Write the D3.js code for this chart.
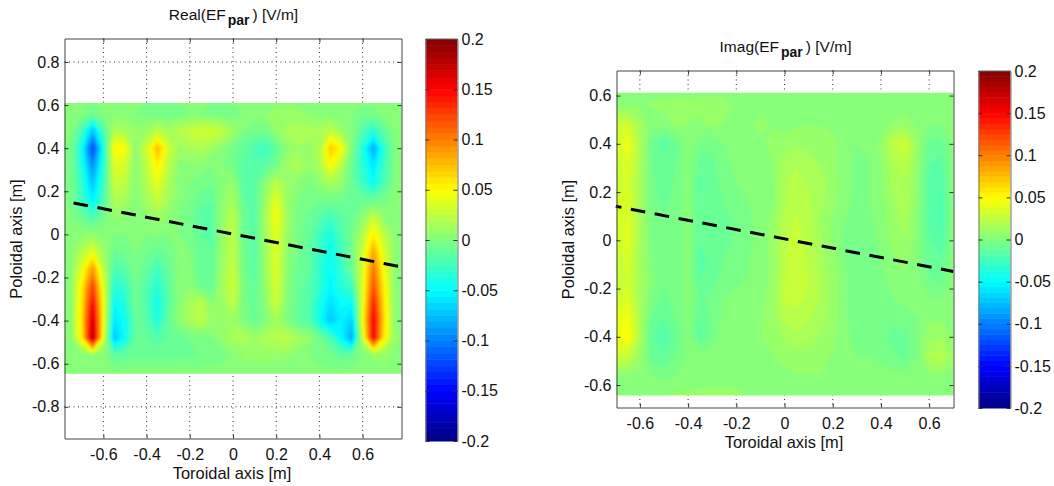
<!DOCTYPE html>
<html>
<head>
<meta charset="utf-8">
<script src="https://cdn.jsdelivr.net/npm/d3@7"></script>
<style>
body { margin: 0; background: #fff; }
text { font-family: "Liberation Sans", Arial, sans-serif; fill: #111; }
.tick text { font-size: 16px; }
</style>
</head>
<body>
<svg id="chart" width="1054" height="486"></svg>
<script>
// field values are in mV/m
var realCols = [-80,-75,-70,-65,-60,-55,-50,-45,-40,-35,-30,-25,-20,-15,-10,-5,0,5,10,15,20,25,30,35,40,45,50,55,60,65,70,75,80];
var imagCols = [-70,-65,-60,-55,-50,-45,-40,-35,-30,-25,-20,-15,-10,-5,0,5,10,15,20,25,30,35,40,45,50,55,60,65,70];
var fieldRows = [64,56,48,40,32,24,16,8,0,-8,-16,-24,-32,-40,-48,-56,-64];

var realField = [
  [3,3,3,2,3,4,3,2,2,0,0,2,3,3,2,2,3,3,3,3,3,3,3,3,3,3,3,3,3,3,3,3,3],
  [3,3,0,-5,0,3,2,0,-3,-5,-6,-3,0,0,-3,-5,-3,0,4,6,10,10,8,6,3,3,2,0,-3,-2,2,3,3],
  [3,0,-22,-75,-20,20,15,8,12,25,15,22,28,32,32,25,12,0,-5,-5,8,15,18,15,15,25,12,2,-18,-35,-12,2,3],
  [2,-2,-45,-125,-42,55,48,5,32,78,35,10,15,18,12,5,-5,-12,-20,-25,-12,5,12,10,15,72,52,0,-35,-85,-30,0,3],
  [2,-2,-38,-95,-33,38,33,3,25,55,25,5,5,5,0,0,-5,-15,-18,-15,-5,12,18,8,18,50,22,-8,-35,-60,-25,0,3],
  [2,-2,-30,-75,-26,30,25,3,20,42,18,3,0,-3,-5,5,8,-15,-15,5,25,10,5,0,5,18,8,-8,-28,-45,-20,0,3],
  [3,-2,-25,-55,-20,18,14,3,14,28,14,2,-3,-10,-12,5,15,-12,-15,10,40,10,0,-3,-5,-5,-5,-8,-8,-10,-2,2,3],
  [3,0,-8,-22,-5,8,5,2,5,12,5,0,-5,-15,-15,8,25,-10,-15,15,48,12,-3,-8,-15,-25,-15,-8,5,30,5,2,3],
  [5,5,5,8,3,0,0,0,0,2,0,0,-3,-12,-15,10,25,-8,-15,12,40,10,-3,-10,-25,-40,-20,-5,20,55,25,5,3],
  [3,5,20,40,12,-8,-5,0,-5,-10,-5,2,0,-10,-12,10,25,-5,-15,12,38,8,-5,-10,-30,-45,-25,-5,30,85,35,5,3],
  [3,5,40,90,25,-22,-15,-2,-12,-25,-10,3,3,-12,-12,12,28,-5,-15,10,38,5,-8,-12,-30,-50,-30,-8,35,105,45,5,3],
  [3,5,55,125,40,-35,-28,-5,-18,-35,-15,5,5,-8,-10,15,30,-3,-12,8,35,3,-10,-15,-30,-52,-35,-25,38,120,52,5,3],
  [3,5,60,150,45,-50,-35,-5,-20,-45,-15,5,15,25,5,10,25,-3,-10,5,30,3,-10,-18,-40,-62,-48,-50,40,140,58,5,3],
  [3,5,62,170,48,-60,-45,-8,-15,-38,-12,5,15,25,10,8,12,0,-8,0,15,0,-12,-15,-45,-72,-55,-68,45,155,62,5,3],
  [3,5,55,185,40,-75,-45,-12,-12,-18,-12,-8,-5,-3,0,8,15,18,12,18,20,25,15,8,-5,-20,-50,-85,30,155,55,8,3],
  [3,3,3,5,3,-12,-10,-8,-8,-8,-8,-8,-8,-6,-5,-3,3,8,8,10,10,8,3,0,-3,-5,-12,-8,0,8,8,5,3],
  [5,3,2,2,0,0,2,3,3,3,3,3,3,3,3,3,3,3,3,0,0,0,0,2,2,2,2,2,3,3,3,3,3]
];

var imagField = [
  [3,3,3,3,3,3,3,4,4,4,4,4,4,4,4,4,4,3,3,3,3,2,0,0,0,0,0,0,0],
  [5,5,5,7,8,8,8,8,8,8,5,5,3,3,3,5,5,5,5,3,3,3,2,2,2,3,3,3,2],
  [28,32,14,3,3,8,6,5,8,6,5,5,8,6,3,5,6,6,5,5,3,3,4,8,10,5,0,0,2],
  [32,44,18,-8,-15,-8,4,-4,-6,0,2,3,5,8,10,12,10,10,8,3,0,3,8,25,32,10,-8,-8,2],
  [28,36,18,-6,-10,-6,3,-8,-7,-2,2,4,5,6,15,18,15,12,8,3,-2,0,6,18,22,8,-12,-15,3],
  [28,34,15,-5,-10,-5,3,-14,-9,-4,0,2,3,5,18,22,18,15,10,3,-2,0,5,15,18,6,-15,-18,3],
  [30,36,15,-4,-8,-3,3,-12,-9,-6,-3,0,2,5,18,24,20,15,8,3,-2,0,3,12,18,5,-15,-20,3],
  [30,38,15,-2,-5,-3,3,-10,-9,-8,-5,-2,3,8,22,26,22,12,5,0,-3,-2,3,10,15,4,-15,-20,3],
  [30,40,15,0,-5,-3,3,-12,-10,-8,-5,-2,3,8,24,27,22,14,6,-2,-5,-3,2,8,12,3,-12,-18,3],
  [26,34,15,0,-5,-3,3,-15,-10,-6,-3,0,3,8,24,28,24,15,8,0,-5,-5,0,5,8,2,-10,-12,3],
  [24,32,15,2,-5,-3,3,-13,-9,-3,-2,0,3,8,25,28,25,18,10,2,-5,-5,-2,3,5,2,-6,-8,3],
  [30,36,15,0,-8,-3,3,-7,-5,0,2,2,4,10,27,28,24,18,10,2,-6,-6,-3,0,3,2,0,0,3],
  [40,46,18,-8,-12,-5,3,-12,-5,2,6,6,6,10,20,22,20,15,10,2,-5,-5,-5,-5,-3,0,5,5,5],
  [40,52,18,-12,-20,-8,2,-14,-3,3,3,4,6,8,14,18,16,12,8,2,-3,-3,-5,-8,-8,0,10,12,5],
  [30,28,10,-10,-12,-5,2,2,3,3,3,3,5,6,8,10,10,8,6,3,0,0,-2,-5,-8,0,18,22,8],
  [5,5,5,0,-2,0,2,3,3,3,3,3,3,3,5,6,6,6,5,3,3,3,3,2,3,3,5,6,5],
  [3,3,3,5,6,7,8,8,8,8,8,6,5,5,6,6,5,5,5,3,3,3,3,3,3,3,3,3,3]
];

var realXTicks = [-0.6,-0.4,-0.2,0,0.2,0.4,0.6];
var realYTicks = [0.8,0.6,0.4,0.2,0,-0.2,-0.4,-0.6,-0.8];
var imagXTicks = [-0.6,-0.4,-0.2,0,0.2,0.4,0.6];
var imagYTicks = [0.6,0.4,0.2,0,-0.2,-0.4,-0.6];
var barTicks = [0.2,0.15,0.1,0.05,0,-0.05,-0.1,-0.15,-0.2];

var realLineX = [-0.738,0.78];
var realLineY = [0.146,-0.151];
var imagLineX = [-0.7,0.7];
var imagLineY = [0.141,-0.129];

var svg = d3.select("#chart");

// MATLAB jet, 64 levels
var jet = d3.scaleLinear()
    .domain([0,0.125,0.375,0.625,0.875,1])
    .range(["#000080","#0000ff","#00ffff","#ffff00","#ff0000","#800000"]);
var levels = d3.range(64);
function levelColor(i) { return jet((i + 0.5) / 64); }

var defs = svg.append("defs");
defs.append("filter").attr("id", "soft")
    .attr("filterUnits", "userSpaceOnUse")
    .attr("x", 0).attr("y", 0).attr("width", 1054).attr("height", 486)
  .append("feGaussianBlur").attr("stdDeviation", 1.3);

function drawPanel(p) {
    var x = d3.scaleLinear().domain(p.xDomain).range([p.left, p.right]);
    var y = d3.scaleLinear().domain(p.yDomain).range([p.bottom, p.top]);
    var g = svg.append("g");

    // grid sits below the field
    var grid = g.append("g")
        .attr("stroke", "#333").attr("stroke-width", 1).attr("stroke-dasharray", "1,3.5");
    grid.selectAll(".gx").data(p.xTicks).enter().append("line")
        .attr("x1", function (d) { return x(d); }).attr("x2", function (d) { return x(d); })
        .attr("y1", p.top).attr("y2", p.bottom);
    grid.selectAll(".gy").data(p.yTicks).enter().append("line")
        .attr("y1", function (d) { return y(d); }).attr("y2", function (d) { return y(d); })
        .attr("x1", p.left).attr("x2", p.right);

    // field as filled contours, one per colour level
    var n = p.cols.length, m = fieldRows.length;
    var cx = d3.scaleLinear().domain([0.5, n - 0.5]).range([x(p.cols[0] / 100), x(p.cols[n - 1] / 100)]);
    var cy = d3.scaleLinear().domain([0.5, m - 0.5]).range([y(fieldRows[0] / 100), y(fieldRows[m - 1] / 100)]);
    var path = d3.geoPath(d3.geoTransform({
        point: function (a, b) { this.stream.point(cx(a), cy(b)); }
    }));
    var thresholds = levels.slice(1).map(function (i) { return -200 + i * 400 / 64; });
    var contours = d3.contours().size([n, m]).thresholds(thresholds)(d3.merge(p.field));

    defs.append("clipPath").attr("id", p.id + "-clip").append("rect")
        .attr("x", p.left).attr("width", p.right - p.left)
        .attr("y", y(p.heatTop)).attr("height", y(p.heatBottom) - y(p.heatTop));

    var heat = g.append("g").attr("clip-path", "url(#" + p.id + "-clip)")
        .append("g").attr("filter", "url(#soft)");
    heat.append("rect")
        .attr("x", p.left - 10).attr("y", p.top - 10)
        .attr("width", p.right - p.left + 20).attr("height", p.bottom - p.top + 20)
        .attr("fill", levelColor(0));
    heat.selectAll("path").data(contours).enter().append("path")
        .attr("d", path)
        .attr("fill", function (d, i) { return levelColor(i + 1); });

    // dashed line
    var line = d3.line()
        .x(function (d) { return x(d[0]); })
        .y(function (d) { return y(d[1]); });
    g.append("path")
        .attr("d", line(d3.zip(p.lineX, p.lineY)))
        .attr("fill", "none").attr("stroke", "#000")
        .attr("stroke-width", 3).attr("stroke-dasharray", "14.7,9.6")
        .attr("stroke-dashoffset", p.dashOffset);

    // box and ticks
    function fmt(d) { return String(d); }
    var axes = g.append("g").attr("stroke-width", 1);
    axes.append("g").attr("transform", "translate(0," + p.bottom + ")")
        .call(d3.axisBottom(x).tickValues(p.xTicks).tickFormat(fmt).tickSize(-4).tickSizeOuter(0).tickPadding(10));
    axes.append("g").attr("transform", "translate(0," + p.top + ")")
        .call(d3.axisTop(x).tickValues(p.xTicks).tickFormat("").tickSize(-4).tickSizeOuter(0));
    axes.append("g").attr("transform", "translate(" + p.left + ",0)")
        .call(d3.axisLeft(y).tickValues(p.yTicks).tickFormat(fmt).tickSize(-4).tickSizeOuter(0).tickPadding(5));
    axes.append("g").attr("transform", "translate(" + p.right + ",0)")
        .call(d3.axisRight(y).tickValues(p.yTicks).tickFormat("").tickSize(-4).tickSizeOuter(0));
    axes.selectAll(".domain").attr("stroke", "#444");
    axes.selectAll(".tick line").attr("stroke", "#333");
    axes.selectAll(".tick text").attr("fill", "#111");

    // texts
    var midX = (p.left + p.right) / 2;
    var title = g.append("text").attr("x", midX + 0.5).attr("y", p.titleY)
        .attr("text-anchor", "middle").style("font-size", "15.5px");
    title.append("tspan").text(p.title);
    title.append("tspan").attr("dx", 2).attr("dy", 5).style("font-size", "14px").style("font-weight", "bold").text("par");
    title.append("tspan").attr("dx", 3).attr("dy", -5).text(") [V/m]");

    g.append("text").attr("x", midX - 1).attr("y", p.xLabelY)
        .attr("text-anchor", "middle").style("font-size", "16.4px").text("Toroidal axis [m]");
    g.append("text").attr("text-anchor", "middle").style("font-size", "16.4px")
        .attr("transform", "translate(" + p.yLabelX + "," + p.yLabelMid + ") rotate(-90)")
        .text("Poloidal axis [m]");

    // colour bar
    var barY = d3.scaleLinear().domain([-0.2, 0.2]).range([p.barBottom, p.barTop]);
    var step = 0.4 / 64;
    var bar = g.append("g");
    bar.selectAll("rect").data(levels).enter().append("rect")
        .attr("x", p.barLeft).attr("width", p.barRight - p.barLeft)
        .attr("y", function (d) { return barY(-0.2 + (d + 1) * step); })
        .attr("height", barY(0) - barY(step) + 0.5)
        .attr("fill", function (d) { return levelColor(d); });
    var barAxes = bar.append("g");
    barAxes.append("g").attr("transform", "translate(" + p.barRight + ",0)")
        .call(d3.axisRight(barY).tickValues(barTicks).tickFormat(fmt).tickSize(-4).tickSizeOuter(0).tickPadding(4));
    barAxes.append("g").attr("transform", "translate(" + p.barLeft + ",0)")
        .call(d3.axisLeft(barY).tickValues(barTicks).tickFormat("").tickSize(-4).tickSizeOuter(0));
    barAxes.append("line")
        .attr("x1", p.barLeft).attr("x2", p.barRight)
        .attr("y1", p.barTop).attr("y2", p.barTop).attr("stroke", "#666");
    barAxes.selectAll(".domain").attr("stroke", "#777");
    barAxes.selectAll(".tick line").attr("stroke", "#333");
    barAxes.selectAll(".tick text").attr("fill", "#111");
}

drawPanel({
    id: "real", title: "Real(EF", field: realField, cols: realCols,
    xDomain: [-0.78, 0.78], yDomain: [-0.947, 0.909],
    left: 64.5, right: 401.5, top: 38.5, bottom: 438.5,
    heatTop: 0.61, heatBottom: -0.646,
    xTicks: realXTicks, yTicks: realYTicks,
    lineX: realLineX, lineY: realLineY, dashOffset: 0,
    titleY: 20, xLabelY: 479, yLabelX: 22, yLabelMid: 239,
    barLeft: 425.5, barRight: 457.5, barTop: 39, barBottom: 441
});

drawPanel({
    id: "imag", title: "Imag(EF", field: imagField, cols: imagCols,
    xDomain: [-0.697, 0.701], yDomain: [-0.693, 0.704],
    left: 616.5, right: 953.5, top: 70.5, bottom: 407.5,
    heatTop: 0.612, heatBottom: -0.643,
    xTicks: imagXTicks, yTicks: imagYTicks,
    lineX: imagLineX, lineY: imagLineY, dashOffset: 9,
    titleY: 52, xLabelY: 448, yLabelX: 574, yLabelMid: 239.5,
    barLeft: 978.5, barRight: 1010.5, barTop: 71, barBottom: 408
});
</script>
</body>
</html>
